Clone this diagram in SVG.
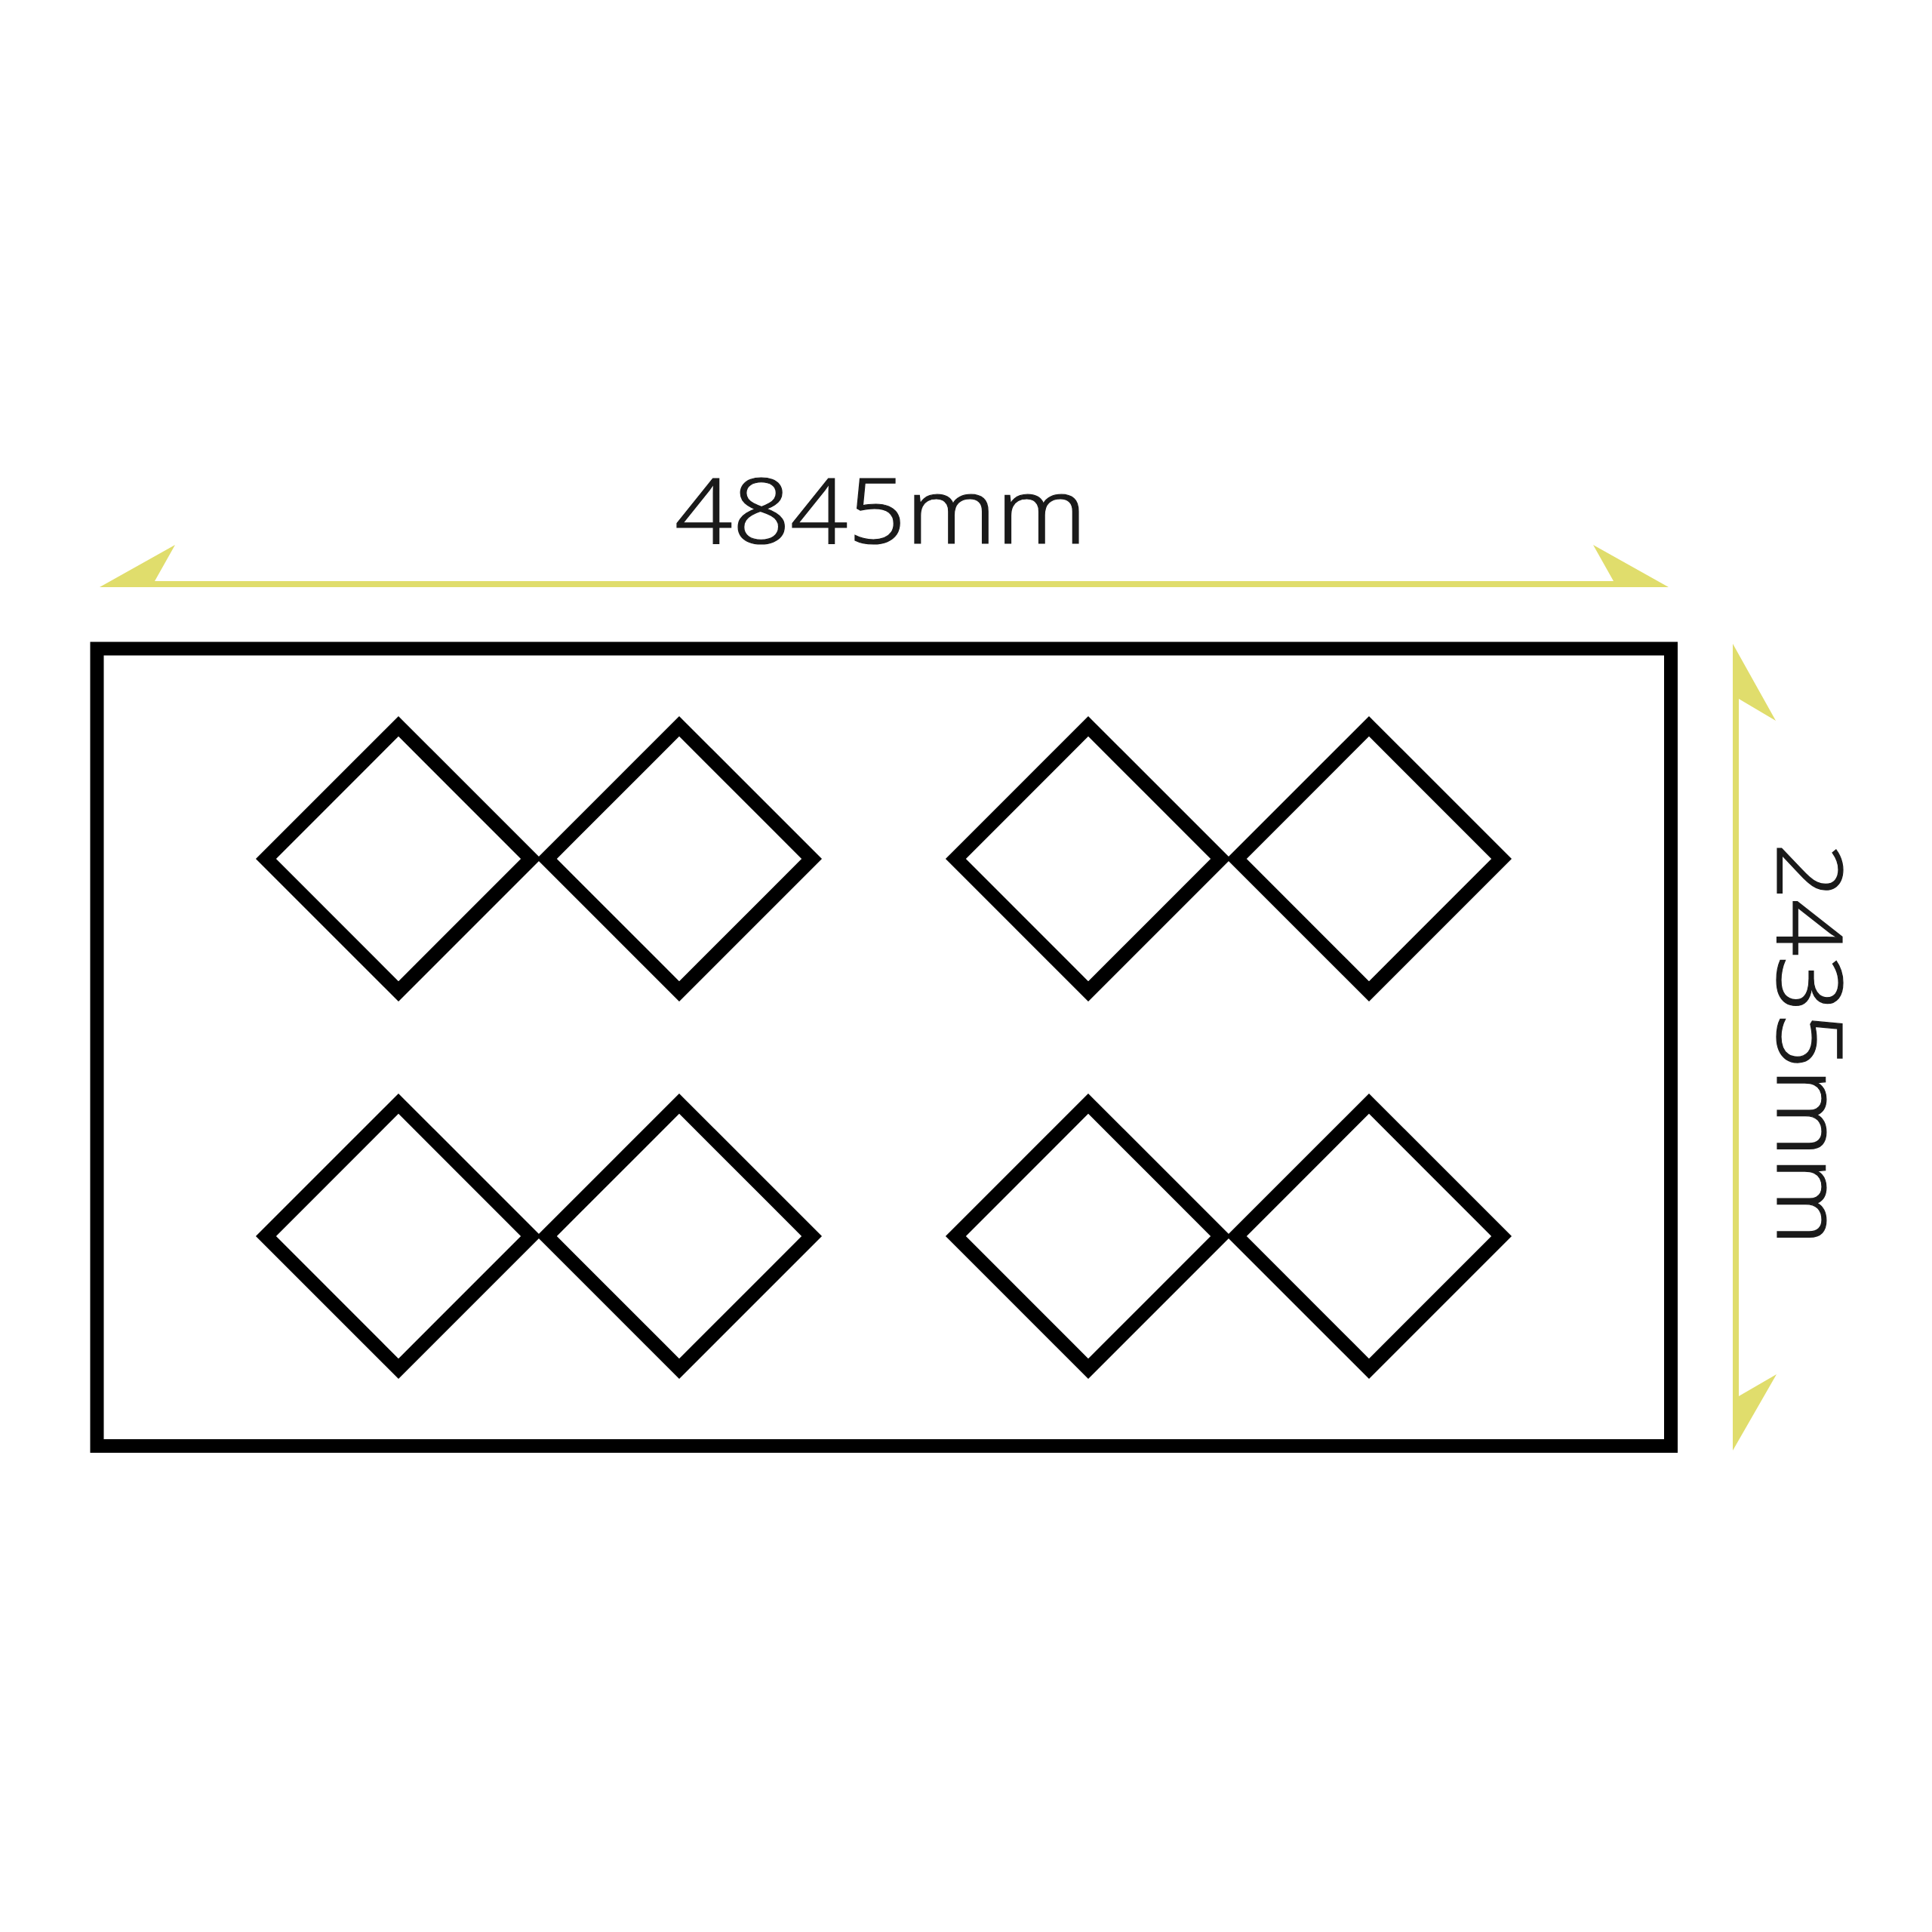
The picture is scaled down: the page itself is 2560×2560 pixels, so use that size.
<svg xmlns="http://www.w3.org/2000/svg" width="2560" height="2560" viewBox="0 0 2560 2560">
  <style>
    .outline { fill: none; stroke: #000; stroke-width: 18; }
    .tile { fill: none; stroke: #000; stroke-width: 19; stroke-linejoin: miter; stroke-miterlimit: 10; }
    .dim { fill: #E0DD6C; stroke: none; }
    .label { font-family: "Noto Sans", "Open Sans", sans-serif; font-weight: 300; font-size: 119px; fill: #1a1a1a; stroke: #1a1a1a; stroke-width: 1.2; }
  </style>
  <defs>
    <polygon id="diamond" points="0,-175.6 175.6,0 0,175.6 -175.6,0"/>
  </defs>
  <rect width="2560" height="2560" fill="#fff"/>

  <g id="panel">
    <rect class="outline" x="128.5" y="859.5" width="2085.5" height="1056.5"/>
  </g>

  <g id="tiles-top-left">
    <use href="#diamond" class="tile" x="528" y="1138"/>
    <use href="#diamond" class="tile" x="900" y="1138"/>
  </g>
  <g id="tiles-top-right">
    <use href="#diamond" class="tile" x="1442" y="1138"/>
    <use href="#diamond" class="tile" x="1814" y="1138"/>
  </g>
  <g id="tiles-bottom-left">
    <use href="#diamond" class="tile" x="528" y="1638"/>
    <use href="#diamond" class="tile" x="900" y="1638"/>
  </g>
  <g id="tiles-bottom-right">
    <use href="#diamond" class="tile" x="1442" y="1638"/>
    <use href="#diamond" class="tile" x="1814" y="1638"/>
  </g>

  <g id="connectors">
    <polygon class="dim" points="132,778 232,722 205,770 2138,770 2111,722 2211,778"/>
    <polygon class="dim" points="2296,853 2353,955 2304,926 2304,1850 2354,1821 2296,1922"/>
  </g>

  <g id="labels">
    <text class="label" x="894" y="720" textLength="546" lengthAdjust="spacingAndGlyphs">4845mm</text>
    <text class="label" transform="translate(2355,1117) rotate(90)" x="0" y="0" textLength="533" lengthAdjust="spacingAndGlyphs">2435mm</text>
  </g>
</svg>
